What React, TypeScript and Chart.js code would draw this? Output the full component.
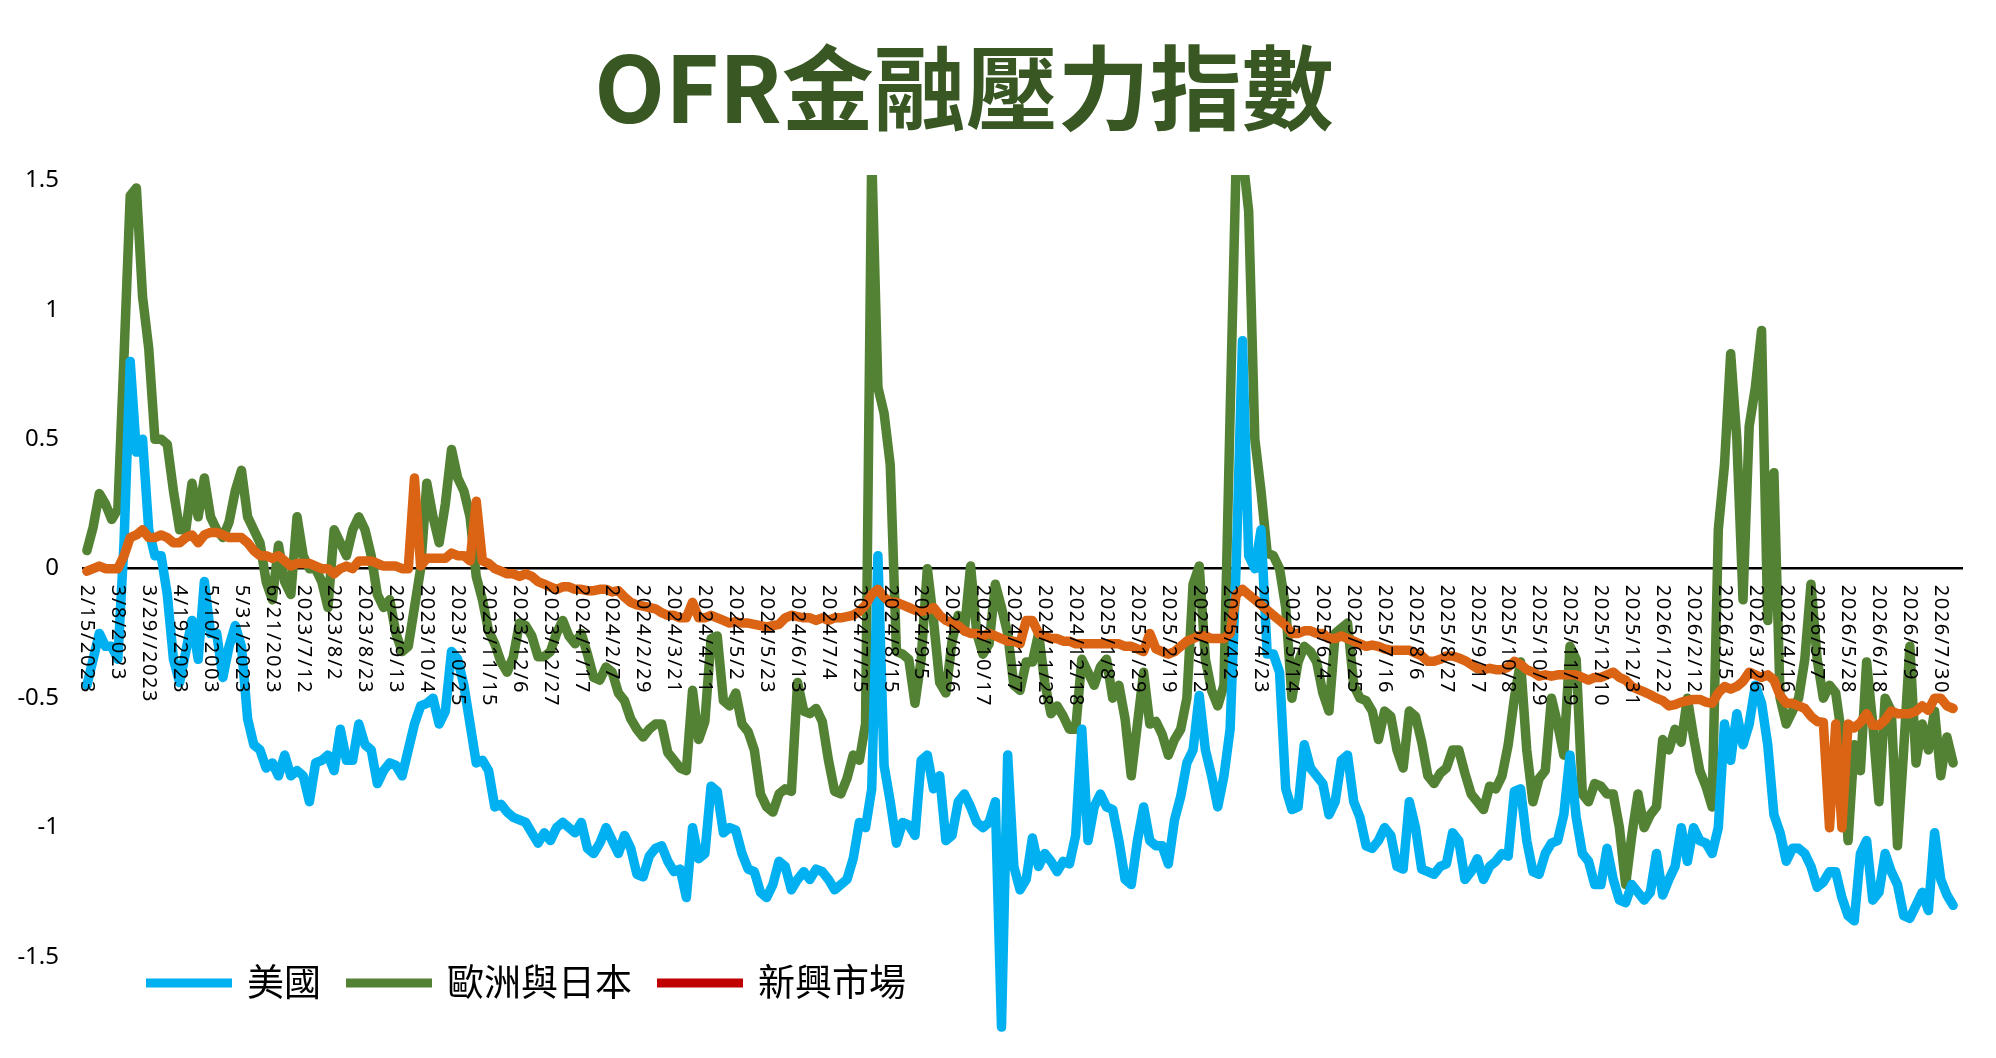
import React, { useEffect, useRef } from "react";
import { Chart, registerables } from "chart.js";

Chart.register(...registerables);

const TITLE = "OFR金融壓力指數";

const TICK_LABELS = [
  "2/15/2023", "3/8/2023", "3/29//2023", "4/19/2023", "5/10/2003", "5/31/2023", "6/21/2023",
  "2023/7/12", "2023/8/2", "2023/8/23", "2023/9/13", "2023/10/4", "2023/10/25", "2023/11/15",
  "2023/12/6", "2023/12/27", "2024/1/17", "2024/2/7", "2024/2/29", "2024/3/21", "2024/4/11",
  "2024/5/2", "2024/5/23", "2024/6/13", "2024/7/4", "2024/7/25", "2024/8/15", "2024/9/5",
  "2024/9/26", "2024/10/17", "2024/11/7", "2024/11/28", "2024/12/18", "2025/1/8", "2025/1/29",
  "2025/2/19", "2025/3/12", "2025/4/2", "2025/4/23", "2025/5/14", "2025/6/4", "2025/6/25",
  "2025/7/16", "2025/8/6", "2025/8/27", "2025/9/17", "2025/10/8", "2025/10/29", "2025/11/19",
  "2025/12/10", "2025/12/31", "2026/1/22", "2026/2/12", "2026/3/5", "2026/3/26", "2026/4/16",
  "2026/5/7", "2026/5/28", "2026/6/18", "2026/7/9", "2026/7/30",
];

// number of observations between two consecutive tick labels
const POINTS_PER_TICK = 5;

const US = [
  -0.45, -0.35, -0.25, -0.3, -0.3, -0.35, 0.1, 0.8, 0.45, 0.5,
  0.15, 0.05, 0.05, -0.1, -0.35, -0.44, -0.32, -0.2, -0.35, -0.05,
  -0.25, -0.25, -0.42, -0.3, -0.22, -0.3, -0.58, -0.68, -0.7, -0.77,
  -0.75, -0.8, -0.72, -0.8, -0.78, -0.8, -0.9, -0.75, -0.74, -0.72,
  -0.78, -0.62, -0.74, -0.74, -0.6, -0.68, -0.7, -0.83, -0.78, -0.75,
  -0.76, -0.8, -0.7, -0.6, -0.53, -0.52, -0.5, -0.6, -0.55, -0.32,
  -0.35, -0.45, -0.6, -0.75, -0.74, -0.78, -0.92, -0.91, -0.94, -0.96,
  -0.97, -0.98, -1.02, -1.06, -1.02, -1.05, -1.0, -0.98, -1.0, -1.02,
  -0.98, -1.08, -1.1, -1.06, -1.0, -1.05, -1.1, -1.03, -1.08, -1.18,
  -1.19, -1.11, -1.08, -1.07, -1.13, -1.17, -1.16, -1.27, -1.0, -1.12,
  -1.1, -0.84, -0.86, -1.02, -1.0, -1.01, -1.1, -1.16, -1.17, -1.25,
  -1.27, -1.22, -1.13, -1.15, -1.24, -1.2, -1.17, -1.2, -1.16, -1.17,
  -1.2, -1.24, -1.22, -1.2, -1.12, -0.98, -1.0, -0.85, 0.05, -0.76,
  -0.9, -1.06, -0.98, -0.99, -1.03, -0.74, -0.72, -0.85, -0.8, -1.05,
  -1.03, -0.9, -0.87, -0.92, -0.98, -1.0, -0.98, -0.9, -1.77, -0.72,
  -1.15, -1.24, -1.2, -1.04, -1.15, -1.1, -1.13, -1.17, -1.13, -1.14,
  -1.03, -0.62, -1.05, -0.92, -0.87, -0.92, -0.93, -1.05, -1.2, -1.22,
  -1.05, -0.92, -1.05, -1.07, -1.07, -1.14, -0.97, -0.88, -0.75, -0.7,
  -0.49, -0.7, -0.8, -0.92, -0.8, -0.62, 0.03, 0.88, 0.05, 0.0,
  0.15, -0.33, -0.33, -0.4, -0.85, -0.93, -0.92, -0.68, -0.77, -0.8,
  -0.83, -0.95, -0.9, -0.74, -0.72, -0.9, -0.96, -1.07, -1.08, -1.05,
  -1.0, -1.03, -1.15, -1.16, -0.9, -1.0, -1.16, -1.17, -1.18, -1.15,
  -1.14, -1.02, -1.05, -1.2, -1.17, -1.12, -1.2, -1.15, -1.13, -1.1,
  -1.11, -0.86, -0.85, -1.05, -1.17, -1.18, -1.1, -1.06, -1.05, -0.95,
  -0.72, -0.96, -1.1, -1.13, -1.22, -1.22, -1.08, -1.2, -1.28, -1.29,
  -1.22, -1.25, -1.28, -1.25, -1.1, -1.26, -1.2, -1.15, -1.0, -1.13,
  -1.0, -1.05, -1.06, -1.1, -1.0, -0.6, -0.74, -0.56, -0.68, -0.6,
  -0.45, -0.52, -0.68, -0.95, -1.02, -1.13, -1.08, -1.08, -1.1, -1.15,
  -1.23, -1.21, -1.17, -1.17, -1.27, -1.34, -1.36, -1.1, -1.05, -1.28,
  -1.25, -1.1, -1.17, -1.22, -1.34, -1.35, -1.3, -1.25, -1.32, -1.02,
  -1.2, -1.26, -1.3,
];

const EU_JP = [
  0.07, 0.16, 0.29, 0.25, 0.19, 0.23, 0.82, 1.44, 1.47, 1.05,
  0.85, 0.5, 0.5, 0.48, 0.3, 0.15, 0.15, 0.33, 0.2, 0.35,
  0.2, 0.15, 0.12, 0.18, 0.3, 0.38, 0.2, 0.15, 0.1, -0.05,
  -0.12, 0.09, -0.05, -0.1, 0.2, 0.05, 0.0, 0.0, -0.05, -0.15,
  0.15, 0.1, 0.05, 0.15, 0.2, 0.15, 0.05, -0.1, -0.15, -0.12,
  -0.25, -0.32, -0.3, -0.15, 0.0, 0.33, 0.2, 0.1, 0.25, 0.46,
  0.35, 0.3, 0.2, -0.03, -0.12, -0.24, -0.29, -0.36, -0.4, -0.34,
  -0.21, -0.22, -0.26, -0.34, -0.34, -0.32, -0.25, -0.2, -0.26, -0.29,
  -0.25, -0.33, -0.42, -0.43, -0.38, -0.4, -0.48, -0.51, -0.58, -0.62,
  -0.65, -0.62, -0.6, -0.6, -0.71, -0.74, -0.77, -0.78, -0.47, -0.66,
  -0.59, -0.27, -0.26, -0.51, -0.53, -0.48, -0.6, -0.63, -0.7, -0.87,
  -0.92, -0.94, -0.87, -0.85, -0.86, -0.44, -0.55, -0.56, -0.54, -0.59,
  -0.74, -0.86, -0.87, -0.81, -0.72, -0.74, -0.6, 1.6, 0.7, 0.6,
  0.4, -0.32, -0.33, -0.35, -0.52, -0.35, 0.0, -0.2, -0.44, -0.48,
  -0.28, -0.18, -0.24, 0.01, -0.25, -0.33, -0.29, -0.06, -0.15, -0.25,
  -0.45, -0.47, -0.36, -0.36, -0.25, -0.44, -0.56, -0.53, -0.57, -0.62,
  -0.62, -0.35, -0.4, -0.45, -0.38, -0.35, -0.5, -0.45, -0.58, -0.8,
  -0.6, -0.4, -0.6, -0.59, -0.64, -0.72, -0.66, -0.62, -0.5, -0.06,
  0.01, -0.35, -0.47, -0.53, -0.45, 0.6, 1.6, 1.6, 1.38, 0.5,
  0.3, 0.06, 0.05, 0.0, -0.15, -0.5, -0.36, -0.3, -0.32, -0.36,
  -0.48, -0.55, -0.25, -0.23, -0.21, -0.45, -0.5, -0.51, -0.55, -0.66,
  -0.55, -0.57, -0.7, -0.77, -0.55, -0.57, -0.67, -0.8, -0.83, -0.79,
  -0.77, -0.7, -0.7, -0.79, -0.87, -0.9, -0.93, -0.84, -0.85, -0.8,
  -0.68, -0.5, -0.36, -0.7, -0.9, -0.81, -0.78, -0.5, -0.6, -0.72,
  -0.3, -0.35, -0.87, -0.9, -0.83, -0.84, -0.87, -0.87, -1.0, -1.22,
  -1.03, -0.87, -1.0, -0.95, -0.92, -0.66, -0.7, -0.62, -0.67, -0.5,
  -0.65, -0.78, -0.84, -0.92, 0.15, 0.4, 0.83, 0.5, -0.12, 0.55,
  0.7, 0.92, -0.2, 0.37, -0.5, -0.6, -0.55, -0.5, -0.35, -0.06,
  -0.35, -0.5, -0.45, -0.48, -0.65, -1.05, -0.68, -0.78, -0.36, -0.6,
  -0.9, -0.5, -0.55, -1.07, -0.7, -0.3, -0.75, -0.6, -0.7, -0.55,
  -0.8, -0.65, -0.75,
];

const EM = [
  -0.01, 0.0, 0.01, 0.0, 0.0, 0.0, 0.05, 0.12, 0.13, 0.15,
  0.12, 0.12, 0.13, 0.12, 0.1, 0.1, 0.12, 0.13, 0.1, 0.13,
  0.14, 0.14, 0.13, 0.12, 0.12, 0.12, 0.1, 0.07, 0.05, 0.05,
  0.04, 0.05, 0.03, 0.01, 0.02, 0.02, 0.02, 0.01, 0.0, 0.0,
  -0.02, 0.0, 0.01, 0.0, 0.03, 0.03, 0.03, 0.02, 0.01, 0.01,
  0.01, 0.0, 0.0, 0.35, 0.01, 0.04, 0.04, 0.04, 0.04, 0.06,
  0.05, 0.05, 0.03, 0.26, 0.03, 0.02, 0.0, -0.01, -0.02, -0.02,
  -0.03, -0.02, -0.03, -0.05, -0.06, -0.07, -0.08, -0.07, -0.07, -0.08,
  -0.08, -0.085, -0.085, -0.08, -0.08, -0.09, -0.085, -0.11, -0.13, -0.14,
  -0.145, -0.15, -0.155, -0.17, -0.18, -0.18, -0.19, -0.19, -0.13, -0.19,
  -0.19, -0.18, -0.19, -0.2, -0.21, -0.205, -0.21, -0.21, -0.215, -0.22,
  -0.225, -0.22, -0.215, -0.19, -0.18, -0.185, -0.19, -0.19, -0.2, -0.19,
  -0.2, -0.19, -0.19, -0.185, -0.18, -0.165, -0.14, -0.1, -0.08, -0.11,
  -0.13, -0.13, -0.14, -0.15, -0.16, -0.165, -0.16, -0.15, -0.18, -0.2,
  -0.21, -0.22, -0.24, -0.25, -0.25, -0.26, -0.25, -0.26, -0.27, -0.28,
  -0.28, -0.29, -0.2, -0.2, -0.25, -0.26, -0.27, -0.27, -0.28, -0.28,
  -0.29, -0.29, -0.29, -0.29, -0.29, -0.29, -0.29, -0.29, -0.3, -0.3,
  -0.31, -0.32, -0.25, -0.31, -0.32, -0.33, -0.32, -0.3, -0.28, -0.27,
  -0.26, -0.26, -0.27, -0.27, -0.27, -0.25, -0.1, -0.08, -0.1, -0.12,
  -0.14, -0.16, -0.18, -0.2, -0.22, -0.25, -0.25, -0.24, -0.24, -0.25,
  -0.25, -0.27, -0.27, -0.26, -0.27, -0.28, -0.29, -0.3, -0.295, -0.3,
  -0.31, -0.315, -0.315, -0.315, -0.315, -0.326, -0.337, -0.358, -0.358, -0.35,
  -0.337, -0.337, -0.345, -0.355, -0.37, -0.385, -0.39, -0.385, -0.39, -0.39,
  -0.38, -0.358, -0.37, -0.39, -0.4, -0.415, -0.41, -0.415, -0.41, -0.41,
  -0.41, -0.41, -0.42, -0.43, -0.42, -0.42, -0.41, -0.4, -0.42, -0.43,
  -0.455, -0.466, -0.476, -0.487, -0.5, -0.51, -0.53, -0.525, -0.515, -0.51,
  -0.505, -0.505, -0.515, -0.52, -0.48, -0.455, -0.465, -0.455, -0.435, -0.4,
  -0.41, -0.42, -0.41, -0.43, -0.49, -0.52, -0.52, -0.53, -0.54, -0.57,
  -0.59, -0.594, -1.0, -0.6, -1.0, -0.6, -0.615, -0.594, -0.56, -0.605,
  -0.605, -0.584, -0.55, -0.56, -0.56, -0.56, -0.55, -0.53, -0.547, -0.5,
  -0.5, -0.53, -0.54,
];

const SERIES_NAMES = ["美國", "歐洲與日本", "新興市場"];
const LINE_COLORS = ["#00B0F0", "#548235", "#DA6314"];
const LEGEND_COLORS = ["#00B0F0", "#548235", "#C00000"];
const Y_TICKS = [1.5, 1, 0.5, 0, -0.5, -1, -1.5];

const overlayPlugin = {
  id: "overlay",
  afterDatasetsDraw(chart: any) {
    const ctx = chart.ctx as any;
    const xs = chart.scales.x;
    const ys = chart.scales.y;
    const y0 = ys.getPixelForValue(0);
    ctx.save();
    ctx.fillStyle = "#000000";
    ctx.font = "20px 'Noto Sans'";
    try {
      ctx.letterSpacing = "1.6px";
    } catch (e) {
      /* ignore */
    }
    ctx.textAlign = "left";
    ctx.textBaseline = "middle";
    TICK_LABELS.forEach((lab, k) => {
      const px = xs.getPixelForValue(k * POINTS_PER_TICK);
      ctx.save();
      ctx.translate(px, y0 + 16);
      ctx.rotate(Math.PI / 2);
      ctx.fillText(lab, 0, 0);
      ctx.restore();
    });
    ctx.restore();
  },
  afterDraw(chart: any) {
    const ctx = chart.ctx as CanvasRenderingContext2D;
    ctx.save();
    // title
    ctx.fillStyle = "#385723";
    ctx.font = "bold 92px 'Noto Sans CJK TC'";
    ctx.textAlign = "center";
    ctx.textBaseline = "alphabetic";
    ctx.fillText(TITLE, 964, 123);

    // legend
    const ly = 983;
    let x = 146;
    ctx.font = "37px 'Noto Sans CJK TC'";
    ctx.textAlign = "left";
    ctx.textBaseline = "middle";
    SERIES_NAMES.forEach((name, i) => {
      ctx.strokeStyle = LEGEND_COLORS[i];
      ctx.lineWidth = 9;
      ctx.lineCap = "butt";
      ctx.beginPath();
      ctx.moveTo(x, ly);
      ctx.lineTo(x + 86, ly);
      ctx.stroke();
      const tx = x + 86 + 15;
      ctx.fillStyle = "#000000";
      ctx.fillText(name, tx, ly - 1);
      x = tx + ctx.measureText(name).width + 25;
    });
    ctx.restore();
  },
};

export default function App() {
  const ref = useRef<HTMLCanvasElement | null>(null);

  useEffect(() => {
    document.body.style.margin = "0";
    if (!ref.current) return;
    const series = [US, EU_JP, EM];
    const orders = [1, 2, 0];
    const chart = new Chart(ref.current, {
      type: "line",
      data: {
        datasets: series.map((vals, s) => ({
          label: SERIES_NAMES[s],
          data: vals.map((v, i) => ({ x: i, y: v })),
          borderColor: LINE_COLORS[s],
          backgroundColor: LINE_COLORS[s],
          borderWidth: 9.5,
          pointRadius: 0,
          pointHoverRadius: 0,
          tension: 0,
          fill: false,
          borderJoinStyle: "round",
          borderCapStyle: "round",
          order: orders[s],
        })),
      },
      options: {
        responsive: false,
        animation: false,
        events: [],
        layout: { padding: { top: 175, bottom: 18, right: 33, left: 0 } },
        plugins: {
          legend: { display: false },
          title: { display: false },
          tooltip: { enabled: false },
        },
        scales: {
          x: {
            type: "linear",
            min: -0.8,
            max: 303.6,
            display: false,
          },
          y: {
            min: -1.82,
            max: 1.52,
            afterBuildTicks: (s: any) => {
              s.ticks = Y_TICKS.map((v) => ({ value: v }));
            },
            afterFit: (s: any) => {
              s.width = 82;
              s.paddingTop = 0;
              s.paddingBottom = 0;
            },
            border: { display: false },
            grid: {
              drawTicks: false,
              color: (c: any) => (c.tick && c.tick.value === 0 ? "#000000" : "rgba(0,0,0,0)"),
              lineWidth: 2.5,
            },
            ticks: {
              padding: 23,
              color: "#000000",
              font: { family: "'Noto Sans'", size: 24 },
              callback: (v: any) => String(v),
            },
          },
        },
      },
      plugins: [overlayPlugin],
    } as any);
    return () => chart.destroy();
  }, []);

  return <canvas ref={ref} width={1996} height={1058} style={{ display: "block" }} />;
}
